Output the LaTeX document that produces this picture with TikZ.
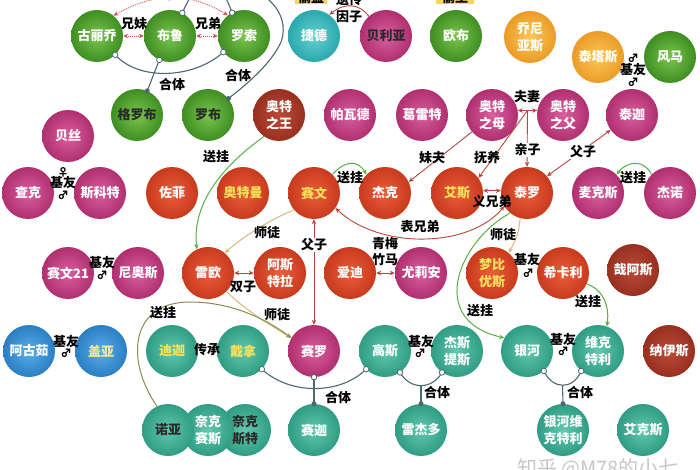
\documentclass[tikz,border=0pt]{standalone}
\usepackage{fontspec}
\setmainfont{Noto Sans CJK SC}
\usetikzlibrary{arrows.meta}
\definecolor{grnI}{HTML}{7CC44E}\definecolor{grnO}{HTML}{3E8E22}
\definecolor{magI}{HTML}{D8609E}\definecolor{magO}{HTML}{B02F6F}
\definecolor{redI}{HTML}{EA5E3C}\definecolor{redO}{HTML}{C83A1C}
\definecolor{brnI}{HTML}{BB4A38}\definecolor{brnO}{HTML}{98301F}
\definecolor{tealI}{HTML}{62C8AE}\definecolor{tealO}{HTML}{2F9C84}
\definecolor{cyanI}{HTML}{66D0D0}\definecolor{cyanO}{HTML}{2AA8AD}
\definecolor{bluI}{HTML}{5AAEE6}\definecolor{bluO}{HTML}{2A7EC4}
\definecolor{orgI}{HTML}{FAC85A}\definecolor{orgO}{HTML}{EC9B26}
\definecolor{ylw}{HTML}{F6E25A}
\definecolor{dk}{HTML}{2A2A2A}
\definecolor{relred}{HTML}{B8473D}
\definecolor{dotred}{HTML}{D05050}
\definecolor{giftg}{HTML}{5AAE46}
\definecolor{tutort}{HTML}{D9B779}
\definecolor{olivel}{HTML}{8E8A55}
\definecolor{fuseg}{HTML}{4D6870}
\definecolor{boxy}{HTML}{F6D55A}
\newcommand\nodefnt{\fontsize{13}{17}\selectfont\bfseries}
\newcommand\lblfnt{\fontsize{13}{14}\selectfont\bfseries}
\newcommand\symfnt{\fontsize{11}{12}\selectfont\bfseries}
\tikzset{
 bub/.style={circle, minimum size=52pt, inner sep=0pt, align=center, font=\nodefnt, text=white},
 cgrn/.style={bub, inner color=grnI, outer color=grnO},
 cmag/.style={bub, inner color=magI, outer color=magO},
 cred/.style={bub, inner color=redI, outer color=redO},
 cbrn/.style={bub, inner color=brnI, outer color=brnO},
 cteal/.style={bub, inner color=tealI, outer color=tealO},
 ccyan/.style={bub, inner color=cyanI, outer color=cyanO},
 cblu/.style={bub, inner color=bluI, outer color=bluO},
 corg/.style={bub, inner color=orgI, outer color=orgO},
 lbl/.style={font=\lblfnt, inner sep=0.5pt, text=black},
 wlbl/.style={lbl, fill=white},
 sym/.style={font=\symfnt, inner sep=0pt, text=black},
 tip/.tip={Stealth[length=5pt,width=4.5pt]},
 relR/.style={draw=relred, line width=0.9pt, -tip},
 relRR/.style={draw=relred, line width=0.9pt, tip-tip},
 dotr/.style={draw=dotred, line width=0.9pt, densely dotted, tip-tip},
 gift/.style={draw=giftg, line width=1pt, -tip},
 tutor/.style={draw=tutort, line width=1pt, -tip},
 olv/.style={draw=olivel, line width=1pt, -tip},
 fuse/.style={draw=fuseg, line width=1.1pt},
 oc/.style={circle, draw=fuseg, fill=white, line width=0.8pt, minimum size=5.5pt, inner sep=0pt},
 fc/.style={circle, fill=fuseg, minimum size=5pt, inner sep=0pt},
}
\begin{document}
\begin{tikzpicture}[x=1pt,y=-1pt]
\useasboundingbox (0,0) rectangle (700,470);
\clip (0,0) rectangle (700,470);
\fill[white] (0,0) rectangle (700,470);
% ---- nodes: row 1
\node[cgrn] (guli) at (97,36) {古丽乔};
\node[cgrn] (bulu) at (170,36) {布鲁};
\node[cgrn] (luosuo) at (244,36) {罗索};
\node[ccyan] (jiede) at (314,36) {捷德};
\node[cmag, text=dk] (beiliya) at (386,36) {贝利亚};
\node[cgrn] (oubu) at (456,36) {欧布};
\node[corg] (qiaoni) at (530,37) {乔尼\\亚斯};
\node[corg] (taitasi) at (598,57) {泰塔斯};
\node[cgrn] (fengma) at (670,57) {风马};
% row 2
\node[cgrn, text=dk] (geluobu) at (137,115) {格罗布};
\node[cgrn, text=dk] (luobu) at (208,115) {罗布};
\node[cmag] (beisi) at (68,136) {贝丝};
\node[cbrn] (wang) at (279,115) {奥特\\之王};
\node[cmag] (pawade) at (350,115) {帕瓦德};
\node[cmag] (geleite) at (422,115) {葛雷特};
\node[cmag] (mu) at (492,115) {奥特\\之母};
\node[cmag] (fu) at (563,115) {奥特\\之父};
\node[cmag] (taijia) at (632,115) {泰迦};
% row 3
\node[cmag] (chake) at (28,193) {查克};
\node[cmag] (sikete) at (100,193) {斯科特};
\node[cred] (zuofei) at (172,193) {佐菲};
\node[cred, text=ylw] (aoteman) at (243,193) {奥特曼};
\node[cred, text=ylw] (saiwen) at (314,193) {赛文};
\node[cred] (jieke) at (385,193) {杰克};
\node[cred, text=ylw] (aisi) at (457,193) {艾斯};
\node[cred] (tailuo) at (527,193) {泰罗};
\node[cmag] (maikesi) at (598,193) {麦克斯};
\node[cmag] (jienuo) at (670,193) {杰诺};
% row 4
\node[cmag] (saiwen21) at (68,273) {赛文21};
\node[cmag] (niaosi) at (138,273) {尼奥斯};
\node[cred] (leiou) at (208,273) {雷欧};
\node[cred] (asite) at (280,273) {阿斯\\特拉};
\node[cred] (aidi) at (350,273) {爱迪};
\node[cmag] (youlian) at (421,273) {尤莉安};
\node[cred, text=ylw] (mengbi) at (492,273) {梦比\\优斯};
\node[cred] (xikali) at (563,273) {希卡利};
\node[cbrn] (zaisi) at (633,270) {哉阿斯};
% row 5
\node[cblu] (aguru) at (29,351) {阿古茹};
\node[cblu, text=ylw!70!white] (gaia) at (101,351) {盖亚};
\node[cteal, text=ylw] (dijia) at (172,351) {迪迦};
\node[cteal, text=ylw] (daina) at (243,351) {戴拿};
\node[cmag] (sailuo) at (314,351) {赛罗};
\node[cteal] (gaosi) at (385,351) {高斯};
\node[cteal] (jiesi) at (457,351) {杰斯\\提斯};
\node[cteal] (yinhe) at (527,351) {银河};
\node[cteal] (weike) at (598,351) {维克\\特利};
\node[cbrn] (nayisi) at (669,351) {纳伊斯};
% row 6
\node[cteal, text=dk] (naikesite) at (245,430) {奈克\\斯特};
\node[cteal] (naikesais) at (208,430) {奈克\\赛斯};
\node[cteal, text=dk] (nuoya) at (168,430) {诺亚};
\node[cteal] (saijia) at (314,430) {赛迦};
\node[cteal] (leijieduo) at (421,430) {雷杰多};
\node[cteal] (yinhewk) at (563,430) {银河维\\克特利};
\node[cteal] (aikesi) at (643,430) {艾克斯};
% ---- top partial labels
\node[lbl, fill=boxy, inner xsep=3pt] (toudao) at (311,-3) {偷盗};
\node[lbl, fill=boxy, inner xsep=6pt] (touwang) at (455,-3) {偷王};
\node[lbl] (yichuan) at (349,0) {遗传};
\node[lbl] (yinzi) at (349,17) {因子};
\node[lbl] (xdtop) at (163,-5) {兄弟};
% ---- Gurruzu group
\draw[dotr] (guli.51) .. controls (155,-8) and (190,-8) .. (luosuo.128);
\draw[dotr] (guli.east) -- (bulu.west);
\draw[dotr] (bulu.east) -- (luosuo.west);
\node[lbl] (xm) at (134,24) {兄妹};
\node[lbl] (xd) at (208,24) {兄弟};
\draw[fuse] (guli.-46) .. controls (140,82) and (195,78) .. (luosuo.-142);
\draw[fuse] (bulu.-114) -- (geluobu.67);
\coordinate (tj) at (208,-18);
\draw[fuse] (bulu.62) .. controls (190,-4) and (198,-18) .. (tj);
\draw[fuse] (luosuo.117) .. controls (226,-4) and (218,-18) .. (tj);
\draw[fuse] (tj) .. controls (262,-20) and (292,12) .. (281,42) .. controls (272,62) and (250,82) .. (luobu.39);
\node[oc] (o1) at (guli.-46) {};
\node[oc] (o2) at (luosuo.-142) {};
\node[oc] (o3) at (bulu.-114) {};
\node[fc] (f1) at (geluobu.67) {};
\node[oc] (o4) at (bulu.62) {};
\node[oc] (o5) at (luosuo.117) {};
\node[fc] (f2) at (luobu.39) {};
\node[lbl] (ht1) at (172,85) {合体};
\node[lbl] (ht2) at (238,76) {合体};
% ---- Belial
\draw[relR] (beiliya.131) .. controls (360,4) and (345,2) .. (jiede.54);
% ---- Ultra King gift
\draw[gift] (wang.-125) .. controls (220,168) and (192,205) .. (leiou.115);
\node[lbl] (sg1) at (216,157) {送挂};
% ---- Ultra mother / father
\draw[relR] (mu.-140) -- (jieke.25);
\node[lbl] (mf) at (432,158) {妹夫};
\draw[relRR] (mu.10) -- (fu.170);
\node[lbl] (fq) at (527,97) {夫妻};
\coordinate (fqj) at (527.5,110.5);
\draw[relR] (fqj) -- (tailuo.north);
\draw[relR] (fqj) -- (aisi.35);
\node[lbl] (fy) at (487,158) {抚养};
\node[wlbl] (qz) at (527.5,150) {亲子};
\draw[relRR] (tailuo.40) -- (taijia.-145);
\node[wlbl] (fz1) at (583,152) {父子};
% ---- Taitas / Fuma
\node[sym] (s1) at (633,58) {♂};
\node[lbl] (jy1) at (633,70) {基友};
\node[sym] (s2) at (633,82) {♂};
% ---- Beth group
\node[sym] (s3) at (63,172) {♀};
\node[lbl] (jy2) at (63,183) {基友};
\node[sym] (s4) at (63,195) {♂};
% ---- row 3 relations
\draw[gift] (saiwen.45) .. controls (345,160) and (358,160) .. (jieke.135);
\node[lbl] (sg2) at (350,178) {送挂};
\draw[gift] (jienuo.135) .. controls (645,160) and (628,160) .. (maikesi.45);
\node[lbl] (sg3) at (633,178) {送挂};
\draw[relRR] (aisi.5) -- (tailuo.175);
\node[lbl] (yxd) at (492,202) {义兄弟};
\draw[relRR] (tailuo.-150) .. controls (470,248) and (380,250) .. (saiwen.-35);
\node[lbl] (bxd) at (420,227) {表兄弟};
\draw[tutor] (saiwen.-140) .. controls (270,220) and (245,235) .. (leiou.50);
\node[lbl] (st1) at (267,233) {师徒};
\draw[relRR] (saiwen.south) -- (sailuo.north);
\node[wlbl] (fz2) at (314,245) {父子};
\draw[tutor] (tailuo.-105) .. controls (518,235) .. (mengbi.50);
\node[lbl] (st2) at (503,235) {师徒};
\draw[gift] (tailuo.-130) .. controls (460,240) and (425,320) .. (yinhe.150);
\node[lbl] (sg4) at (480,311) {送挂};
% ---- row 4 relations
\node[lbl] (jy3) at (102,263) {基友};
\node[sym] (s5) at (102,275) {♂};
\draw[relRR] (leiou.east) -- (asite.west);
\node[lbl] (sz) at (243,287) {双子};
\draw[relRR] (aidi.east) -- (youlian.west);
\node[lbl] (qm) at (385,244) {青梅};
\node[lbl] (zm) at (385,260) {竹马};
\node[lbl] (jy4) at (527,260) {基友};
\node[sym] (s6) at (528,273) {♂};
\draw[gift] (xikali.-25) .. controls (600,288) and (610,302) .. (weike.70);
\node[lbl] (sg5) at (588,302) {送挂};
\draw[tutor] (leiou.-45) .. controls (245,310) and (270,325) .. (sailuo.150);
\node[lbl] (st3) at (277,315) {师徒};
\draw[olv] (nuoya.115) .. controls (125,360) and (130,302) .. (190,302) .. controls (230,302) and (265,318) .. (sailuo.150);
\node[lbl] (sg6) at (163,313) {送挂};
% ---- row 5 relations
\node[lbl] (jy5) at (66,342) {基友};
\node[sym] (s7) at (66,353) {♂};
\node[lbl] (cc) at (207,350) {传承};
\node[lbl] (jy6) at (421,342) {基友};
\node[sym] (s8) at (420,353) {♂};
\node[lbl] (jy7) at (563,340) {基友};
\node[sym] (s9) at (563,351) {♂};
% ---- fusions bottom
\draw[fuse] (daina.-44) .. controls (290,395) and (340,395) .. (gaosi.-136);
\draw[fuse] (sailuo.south) -- (saijia.north);
\node[oc] (o6) at (daina.-44) {};
\node[oc] (o7) at (gaosi.-136) {};
\node[oc] (o8) at (sailuo.south) {};
\node[fc] (f3) at (saijia.north) {};
\node[lbl] (ht3) at (338,398) {合体};
\draw[fuse] (gaosi.-55) .. controls (410,390) and (432,390) .. (jiesi.-125);
\coordinate (j2) at (421,385.5);
\draw[fuse] (j2) -- (leijieduo.north);
\node[oc] (o9) at (gaosi.-55) {};
\node[oc] (o10) at (jiesi.-125) {};
\node[fc] (f4) at (leijieduo.north) {};
\node[lbl] (ht4) at (437,393) {合体};
\draw[fuse] (yinhe.-50) .. controls (553,390) and (573,390) .. (weike.-130);
\coordinate (j3) at (562.5,385.2);
\draw[fuse] (j3) -- (yinhewk.north);
\node[oc] (o11) at (yinhe.-50) {};
\node[oc] (o12) at (weike.-130) {};
\node[fc] (f5) at (yinhewk.north) {};
\node[lbl] (ht5) at (580,393) {合体};
% ---- watermark
\node[font=\fontsize{20}{22}\selectfont, text=black!22, inner sep=0pt] (wm) at (598,469) {知乎 @M78的小七};
\end{tikzpicture}
\end{document}
